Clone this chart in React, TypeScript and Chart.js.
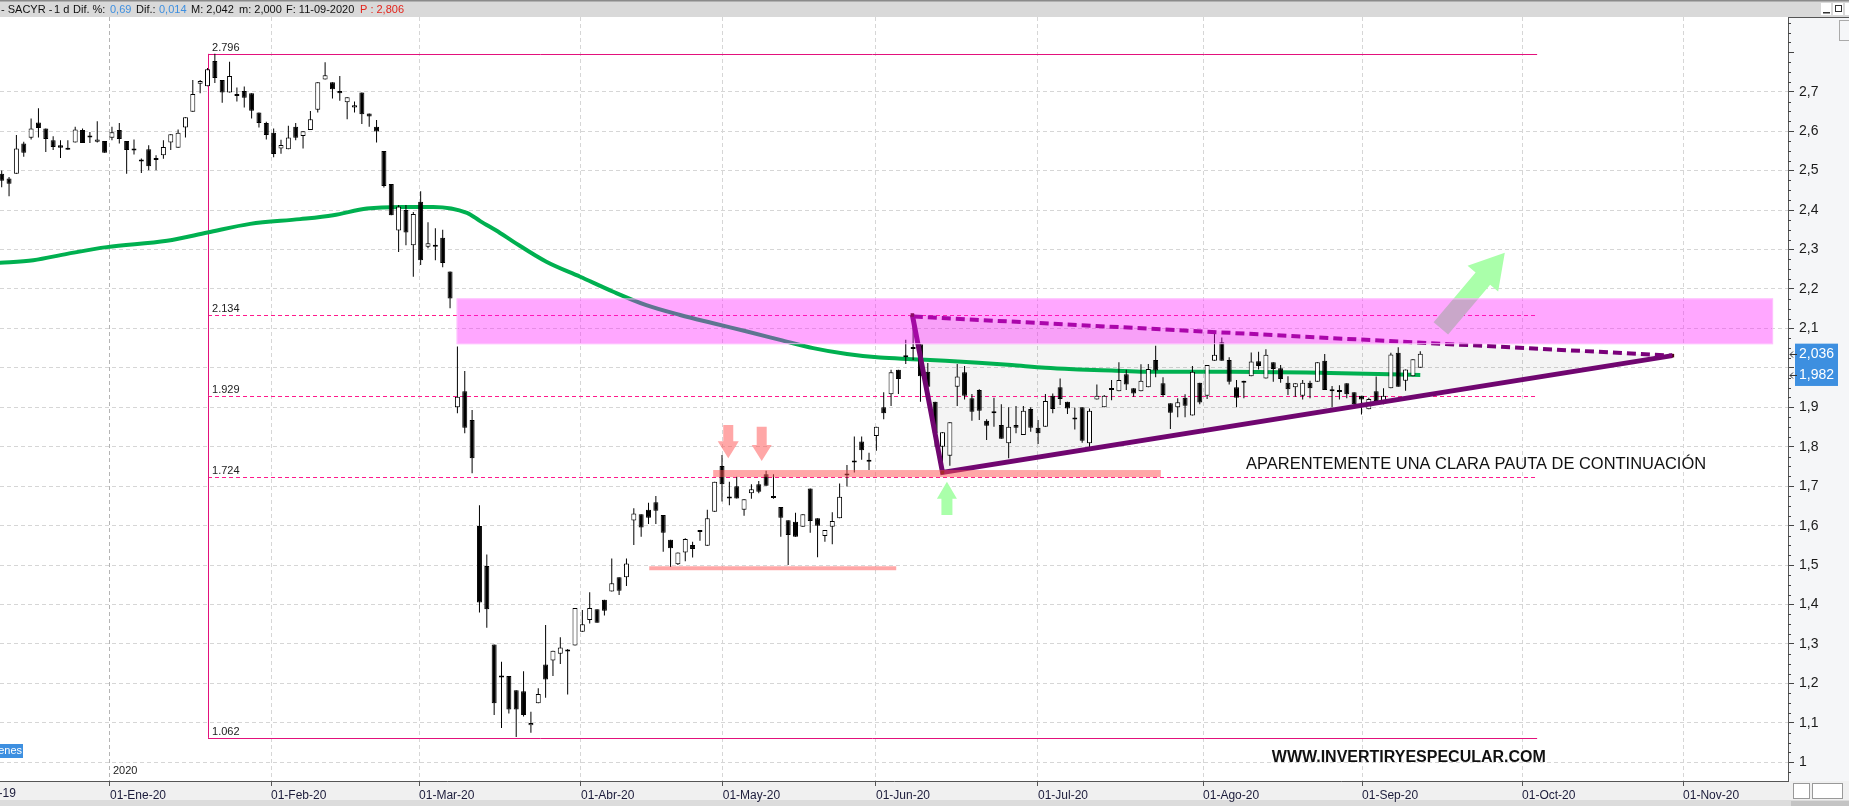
import React, { useEffect, useRef } from 'react';
import { Chart, registerables } from 'chart.js';

Chart.register(...registerables);

const FONT = '"Liberation Sans", Arial, sans-serif';

// ---- Daily candles (trading-day index 1..194, ~10-Dic-2019 .. 11-Sep-2020) ----
const openP = [
  2.492, 2.480, 2.492, 2.569, 2.583, 2.622, 2.607, 2.577, 2.564, 2.553,
  2.571, 2.603, 2.584, 2.573, 2.575, 2.583, 2.603, 2.575, 2.552, 2.524,
  2.554, 2.528, 2.539, 2.571, 2.558, 2.609, 2.649, 2.720, 2.714, 2.778,
  2.730, 2.698, 2.690, 2.702, 2.696, 2.647, 2.621, 2.596, 2.556, 2.554,
  2.611, 2.588, 2.603, 2.654, 2.731, 2.724, 2.702, 2.673, 2.660, 2.698,
  2.645, 2.611, 2.550, 2.466, 2.348, 2.400, 2.311, 2.421, 2.307, 2.311,
  2.330, 2.244, 1.900, 1.941, 1.868, 1.599, 1.498, 1.299, 1.217, 1.219,
  1.183, 1.180, 1.094, 1.150, 1.248, 1.258, 1.275, 1.283, 1.296, 1.331,
  1.361, 1.388, 1.412, 1.433, 1.469, 1.469, 1.613, 1.629, 1.640, 1.659,
  1.627, 1.564, 1.502, 1.532, 1.551, 1.586, 1.549, 1.635, 1.751, 1.671,
  1.700, 1.640, 1.682, 1.705, 1.730, 1.671, 1.647, 1.614, 1.610, 1.597,
  1.694, 1.619, 1.574, 1.597, 1.619, 1.728, 1.760, 1.813, 1.762, 1.827,
  1.900, 1.933, 1.995, 2.028, 2.048, 2.060, 1.990, 1.914, 1.800, 1.777,
  1.952, 1.989, 1.923, 1.944, 1.866, 1.886, 1.855, 1.809, 1.855, 1.830,
  1.896, 1.848, 1.851, 1.929, 1.951, 1.914, 1.870, 1.900, 1.809, 1.920,
  1.900, 1.944, 1.941, 1.984, 1.948, 1.941, 1.951, 2.020, 1.961, 1.910,
  1.900, 1.924, 1.879, 1.962, 1.929, 2.018, 2.065, 2.020, 1.951, 1.962,
  1.979, 2.017, 1.973, 2.014, 1.999, 1.962, 1.951, 1.929, 1.962, 1.965,
  2.018, 1.942, 1.939, 1.961, 1.938, 1.929, 1.895, 1.941, 1.910, 1.948,
  2.038, 1.967, 1.979, 2.000,
];
const highP = [
  2.500, 2.484, 2.590, 2.573, 2.632, 2.658, 2.607, 2.587, 2.577, 2.577,
  2.611, 2.607, 2.598, 2.625, 2.575, 2.611, 2.621, 2.575, 2.579, 2.531,
  2.564, 2.539, 2.577, 2.592, 2.604, 2.635, 2.730, 2.730, 2.760, 2.796,
  2.730, 2.776, 2.711, 2.713, 2.696, 2.647, 2.624, 2.607, 2.578, 2.614,
  2.621, 2.600, 2.651, 2.724, 2.775, 2.724, 2.740, 2.686, 2.675, 2.698,
  2.645, 2.628, 2.550, 2.466, 2.413, 2.413, 2.395, 2.448, 2.369, 2.354,
  2.350, 2.244, 2.054, 1.992, 1.893, 1.652, 1.527, 1.299, 1.255, 1.219,
  1.183, 1.231, 1.128, 1.188, 1.348, 1.283, 1.317, 1.287, 1.391, 1.386,
  1.431, 1.388, 1.412, 1.517, 1.469, 1.517, 1.644, 1.629, 1.658, 1.675,
  1.627, 1.564, 1.532, 1.568, 1.559, 1.586, 1.640, 1.711, 1.779, 1.711,
  1.724, 1.667, 1.705, 1.713, 1.739, 1.730, 1.647, 1.614, 1.633, 1.629,
  1.694, 1.619, 1.589, 1.634, 1.707, 1.754, 1.826, 1.826, 1.785, 1.851,
  1.938, 1.995, 1.995, 2.071, 2.134, 2.060, 2.012, 1.914, 1.837, 1.862,
  2.010, 2.005, 1.934, 1.946, 1.870, 1.924, 1.908, 1.900, 1.903, 1.903,
  1.900, 1.868, 1.934, 1.935, 1.973, 1.914, 1.899, 1.900, 1.897, 1.958,
  1.931, 1.969, 2.014, 1.995, 1.948, 2.009, 2.010, 2.056, 1.976, 1.910,
  1.923, 1.933, 2.005, 1.962, 2.007, 2.094, 2.077, 2.027, 1.969, 1.967,
  2.039, 2.041, 2.047, 2.014, 2.007, 1.979, 1.961, 1.969, 1.967, 2.014,
  2.035, 1.954, 1.956, 1.961, 1.938, 1.929, 1.924, 1.978, 1.948, 2.038,
  2.052, 1.996, 2.022, 2.042,
];
const lowP = [
  2.458, 2.435, 2.492, 2.535, 2.579, 2.584, 2.547, 2.552, 2.532, 2.553,
  2.571, 2.570, 2.570, 2.571, 2.545, 2.577, 2.569, 2.492, 2.541, 2.494,
  2.501, 2.501, 2.530, 2.552, 2.558, 2.584, 2.649, 2.696, 2.714, 2.722,
  2.672, 2.698, 2.675, 2.660, 2.632, 2.609, 2.579, 2.534, 2.543, 2.554,
  2.577, 2.556, 2.603, 2.647, 2.731, 2.683, 2.677, 2.630, 2.647, 2.618,
  2.611, 2.571, 2.457, 2.387, 2.294, 2.311, 2.231, 2.261, 2.303, 2.273,
  2.255, 2.151, 1.885, 1.834, 1.733, 1.380, 1.341, 1.120, 1.087, 1.124,
  1.064, 1.116, 1.075, 1.150, 1.164, 1.219, 1.249, 1.172, 1.296, 1.331,
  1.352, 1.354, 1.372, 1.433, 1.424, 1.447, 1.551, 1.572, 1.604, 1.604,
  1.534, 1.495, 1.500, 1.510, 1.519, 1.562, 1.549, 1.635, 1.661, 1.652,
  1.669, 1.625, 1.668, 1.682, 1.701, 1.668, 1.572, 1.500, 1.572, 1.597,
  1.582, 1.520, 1.559, 1.553, 1.619, 1.699, 1.735, 1.767, 1.741, 1.790,
  1.870, 1.903, 1.934, 2.010, 2.020, 1.914, 1.940, 1.800, 1.735, 1.752,
  1.903, 1.920, 1.866, 1.868, 1.817, 1.851, 1.820, 1.771, 1.834, 1.830,
  1.838, 1.807, 1.851, 1.885, 1.906, 1.883, 1.844, 1.810, 1.794, 1.920,
  1.900, 1.918, 1.941, 1.944, 1.927, 1.941, 1.951, 1.976, 1.927, 1.845,
  1.875, 1.875, 1.879, 1.908, 1.921, 2.018, 2.018, 1.958, 1.900, 1.923,
  1.979, 1.996, 1.973, 1.965, 1.962, 1.931, 1.927, 1.920, 1.923, 1.965,
  1.944, 1.900, 1.920, 1.923, 1.903, 1.882, 1.895, 1.916, 1.908, 1.948,
  1.952, 1.942, 1.979, 2.000,
];
const closeP = [
  2.474, 2.467, 2.556, 2.545, 2.607, 2.608, 2.580, 2.560, 2.558, 2.558,
  2.604, 2.570, 2.585, 2.579, 2.545, 2.597, 2.580, 2.552, 2.551, 2.523,
  2.511, 2.527, 2.560, 2.592, 2.596, 2.635, 2.694, 2.727, 2.757, 2.735,
  2.698, 2.740, 2.689, 2.685, 2.652, 2.621, 2.590, 2.542, 2.565, 2.584,
  2.583, 2.600, 2.630, 2.724, 2.742, 2.706, 2.696, 2.686, 2.666, 2.643,
  2.637, 2.599, 2.461, 2.387, 2.409, 2.343, 2.390, 2.273, 2.316, 2.307,
  2.266, 2.176, 1.927, 1.848, 1.771, 1.405, 1.388, 1.150, 1.215, 1.134,
  1.134, 1.120, 1.100, 1.173, 1.210, 1.283, 1.291, 1.281, 1.391, 1.350,
  1.391, 1.354, 1.384, 1.454, 1.435, 1.504, 1.631, 1.595, 1.620, 1.638,
  1.582, 1.543, 1.532, 1.566, 1.541, 1.584, 1.619, 1.711, 1.705, 1.669,
  1.669, 1.667, 1.692, 1.686, 1.701, 1.670, 1.620, 1.576, 1.572, 1.629,
  1.612, 1.600, 1.589, 1.612, 1.673, 1.727, 1.761, 1.791, 1.763, 1.851,
  1.885, 1.989, 1.972, 2.027, 2.049, 1.979, 1.952, 1.834, 1.837, 1.862,
  1.978, 1.929, 1.889, 1.891, 1.853, 1.885, 1.820, 1.851, 1.848, 1.891,
  1.848, 1.834, 1.916, 1.896, 1.921, 1.897, 1.869, 1.815, 1.891, 1.929,
  1.929, 1.945, 1.969, 1.958, 1.935, 1.967, 1.997, 1.993, 1.931, 1.886,
  1.913, 1.904, 1.990, 1.912, 2.007, 2.033, 2.018, 1.965, 1.924, 1.967,
  2.016, 2.005, 2.033, 1.997, 1.972, 1.946, 1.961, 1.962, 1.948, 2.014,
  1.944, 1.941, 1.944, 1.933, 1.908, 1.920, 1.921, 1.916, 1.929, 2.034,
  1.952, 1.996, 2.022, 2.036,
];

// ---- Moving average (read at sample positions along the curve) ----
const maPos = [0.5, 5.3, 9.9, 15.3, 23.5, 29.0, 34.8, 41.6, 46.1, 50.7, 55.2, 59.7, 64.3, 66.1, 68.8, 70.6,
  75.1, 79.7, 84.2, 88.7, 93.3, 97.8, 102.4, 106.9, 111.4, 116.0, 120.5, 124.8, 129.4, 133.9, 138.4,
  143.0, 147.5, 152.0, 156.6, 168.2, 181.7, 194];
const maVal = [2.266, 2.273, 2.289, 2.306, 2.322, 2.343, 2.365, 2.377, 2.387, 2.404, 2.408, 2.408, 2.393, 2.372, 2.342, 2.320,
  2.269, 2.231, 2.193, 2.159, 2.134, 2.113, 2.092, 2.071, 2.050, 2.035, 2.026, 2.022, 2.018, 2.013, 2.007,
  2.000, 1.996, 1.993, 1.990, 1.990, 1.987, 1.982];

// ---- Axes ----
const monthTickPos = [15.73, 37.64, 57.78, 79.81, 99.1, 119.95, 141.99, 164.45, 186.08, 207.85, 229.75];
const monthTickLabels = ['01-Ene-20', '01-Feb-20', '01-Mar-20', '01-Abr-20', '01-May-20', '01-Jun-20',
  '01-Jul-20', '01-Ago-20', '01-Sep-20', '01-Oct-20', '01-Nov-20'];
const prevMonthPos = -4.15;
const prevMonthLabel = '01-Dic-19';
const yTickValues = [1.0, 1.1, 1.2, 1.3, 1.4, 1.5, 1.6, 1.7, 1.8, 1.9, 2.0, 2.1, 2.2, 2.3, 2.4, 2.5, 2.6, 2.7];

const X_MIN = 0.769;
const X_MAX = 244.03;
const Y_MIN = 0.9527;
const Y_MAX = 2.8894;

// ---- Drawing annotations (in data units) ----
const fibLevels = [2.796, 2.134, 1.929, 1.724, 1.062];
const fibLabels = ['2.796', '2.134', '1.929', '1.724', '1.062'];
const fibStart = 29.07;
const fibEnd = 209.9;
const band = { x0: 62.9, x1: 242.0, lo: 2.06, hi: 2.176 };
const supportPts = [[124.9, 2.134], [129.0, 1.735], [228.3, 2.031]];
const resistPts = [[125.1, 2.13], [228.3, 2.031]];
const salmonLines = [
  { x0: 97.8, x1: 158.7, lo: 1.723, hi: 1.741 },
  { x0: 89.1, x1: 122.7, lo: 1.487, hi: 1.497 },
];
const arrows = [
  { base: [99.85, 1.855], tip: [99.85, 1.771], shaft: 10, head: 21, headLen: 17, color: 'rgba(255,80,80,0.5)' },
  { base: [104.4, 1.851], tip: [104.4, 1.764], shaft: 10, head: 20, headLen: 16, color: 'rgba(255,80,80,0.5)' },
  { base: [129.6, 1.627], tip: [129.6, 1.711], shaft: 11, head: 20, headLen: 17, color: 'rgb(170,255,170)' },
  { base: [196.8, 2.100], tip: [205.5, 2.292], shaft: 19, head: 40, headLen: 34, color: 'rgb(170,255,170)' },
];
const noteText = 'APARENTEMENTE UNA CLARA PAUTA DE CONTINUACIÓN';
const notePos = [170.3, 1.755];
const siteText = 'WWW.INVERTIRYESPECULAR.COM';
const sitePos = [173.8, 1.011];

const headerParts: [number, string, string][] = [
  [1, '- SACYR -', '#111'], [54, '1 d', '#111'], [73, 'Dif. %:', '#111'], [110, '0,69', '#3d8fe0'],
  [136, 'Dif.:', '#111'], [159, '0,014', '#3d8fe0'], [191, 'M: 2,042', '#111'], [239, 'm: 2,000', '#111'],
  [286, 'F: 11-09-2020', '#111'], [360, 'P : 2,806', '#e3241b'],
];

function fmtComma(v: number) {
  const r = Math.round(v * 10) / 10;
  return String(r).replace('.', ',');
}

function fmt3(v: number) {
  return v.toFixed(3).replace('.', ',');
}

function drawArrow(ctx: any, bx: number, by: number, tx: number, ty: number, shaftW: number, headW: number, headL: number, color: string) {
  const dx = tx - bx, dy = ty - by;
  const len = Math.hypot(dx, dy);
  const ux = dx / len, uy = dy / len;
  const nx = -uy, ny = ux;
  const hx = tx - ux * headL, hy = ty - uy * headL;
  ctx.beginPath();
  ctx.moveTo(bx + nx * shaftW / 2, by + ny * shaftW / 2);
  ctx.lineTo(hx + nx * shaftW / 2, hy + ny * shaftW / 2);
  ctx.lineTo(hx + nx * headW / 2, hy + ny * headW / 2);
  ctx.lineTo(tx, ty);
  ctx.lineTo(hx - nx * headW / 2, hy - ny * headW / 2);
  ctx.lineTo(hx - nx * shaftW / 2, hy - ny * shaftW / 2);
  ctx.lineTo(bx - nx * shaftW / 2, by - ny * shaftW / 2);
  ctx.closePath();
  ctx.fillStyle = color;
  ctx.fill();
}

const decorPlugin = {
  id: 'decor',
  beforeDraw(chart: any) {
    const { ctx, width, height, chartArea: ca } = chart;
    ctx.save();
    ctx.fillStyle = '#ffffff';
    ctx.fillRect(0, 0, width, height);
    ctx.fillStyle = '#f5f6f8';
    ctx.fillRect(ca.right, ca.top, width - ca.right, ca.bottom - ca.top);
    ctx.fillStyle = '#f0f0f0';
    ctx.fillRect(0, ca.bottom, width, height - ca.bottom);
    ctx.fillStyle = '#dcdcdc';
    ctx.fillRect(0, height - 6, width, 6);
    ctx.fillStyle = '#c4c4c4';
    ctx.fillRect(width - 58, height - 5, 58, 5);
    // header bar
    ctx.fillStyle = '#d9d9d9';
    ctx.fillRect(0, 0, width, ca.top);
    ctx.fillStyle = '#8a8a8a';
    ctx.fillRect(0, 0, width, 1.5);
    ctx.font = '11px ' + FONT;
    ctx.textBaseline = 'middle';
    ctx.textAlign = 'left';
    headerParts.forEach(([x, t, c]) => {
      ctx.fillStyle = c;
      ctx.fillText(t, x, 10);
    });
    // window buttons
    ctx.fillStyle = '#ffffff';
    ctx.fillRect(1821, 3, 10, 12);
    ctx.fillRect(1833, 3, 10, 12);
    ctx.fillRect(1845, 3, 4, 12);
    ctx.fillStyle = '#333';
    ctx.fillRect(1823, 12, 7, 1.5);
    ctx.strokeStyle = '#333';
    ctx.lineWidth = 1;
    ctx.strokeRect(1835.5, 5.5, 6, 6);
    ctx.restore();
  },
  beforeDatasetsDraw(chart: any) {
    const { ctx, chartArea: ca } = chart;
    const xs = chart.scales.x, ys = chart.scales.y;
    const px = (v: number) => xs.getPixelForValue(v);
    const py = (v: number) => ys.getPixelForValue(v);
    ctx.save();
    ctx.beginPath();
    ctx.rect(ca.left, ca.top, ca.right - ca.left, ca.bottom - ca.top);
    ctx.clip();
    // triangle fill
    ctx.beginPath();
    supportPts.forEach(([n, v], i) => (i === 0 ? ctx.moveTo(px(n), py(v)) : ctx.lineTo(px(n), py(v))));
    ctx.closePath();
    ctx.fillStyle = 'rgba(0,0,0,0.045)';
    ctx.fill();
    // fibonacci lines
    const xa = px(fibStart), xb = px(fibEnd);
    fibLevels.forEach((lv, i) => {
      const solid = i === 0 || i === fibLevels.length - 1;
      ctx.beginPath();
      ctx.setLineDash(solid ? [] : [4, 3]);
      ctx.strokeStyle = solid ? '#e3117c' : '#ff1a8c';
      ctx.lineWidth = 1;
      const y = Math.round(py(lv)) + 0.5;
      ctx.moveTo(xa, y);
      ctx.lineTo(xb, y);
      ctx.stroke();
      ctx.setLineDash([]);
      ctx.fillStyle = '#222';
      ctx.font = '11px ' + FONT;
      ctx.textBaseline = 'alphabetic';
      ctx.textAlign = 'left';
      ctx.fillText(fibLabels[i], xa + 4, y - 4);
    });
    ctx.beginPath();
    ctx.strokeStyle = '#e3117c';
    ctx.lineWidth = 1;
    const vx = Math.round(xa) + 0.5;
    ctx.moveTo(vx, py(fibLevels[0]));
    ctx.lineTo(vx, py(fibLevels[fibLevels.length - 1]));
    ctx.stroke();
    // year label
    ctx.fillStyle = '#222';
    ctx.font = '11px ' + FONT;
    ctx.textBaseline = 'middle';
    ctx.fillText('2020', px(monthTickPos[0]) + 3, ca.bottom - 10);
    ctx.restore();
  },
  afterDatasetsDraw(chart: any) {
    const { ctx, chartArea: ca } = chart;
    const xs = chart.scales.x, ys = chart.scales.y;
    const px = (v: number) => xs.getPixelForValue(v);
    const py = (v: number) => ys.getPixelForValue(v);
    ctx.save();
    ctx.beginPath();
    ctx.rect(ca.left, ca.top, ca.right - ca.left, ca.bottom - ca.top);
    ctx.clip();
    ctx.fillStyle = 'rgba(255,80,80,0.5)';
    salmonLines.forEach((s) => {
      ctx.fillRect(px(s.x0), py(s.hi), px(s.x1) - px(s.x0), py(s.lo) - py(s.hi));
    });
    arrows.forEach((a) => {
      drawArrow(ctx, px(a.base[0]), py(a.base[1]), px(a.tip[0]), py(a.tip[1]), a.shaft, a.head, a.headLen, a.color);
    });
    // resistance zone
    ctx.fillStyle = 'rgba(255,15,255,0.37)';
    ctx.fillRect(px(band.x0), py(band.hi), px(band.x1) - px(band.x0), py(band.lo) - py(band.hi));
    ctx.strokeStyle = 'rgba(255,200,255,0.8)';
    ctx.lineWidth = 1;
    ctx.strokeRect(px(band.x0) + 0.5, py(band.hi) + 0.5, px(band.x1) - px(band.x0) - 1, py(band.lo) - py(band.hi) - 1);
    // texts
    ctx.fillStyle = '#111';
    ctx.textAlign = 'left';
    ctx.textBaseline = 'middle';
    ctx.font = '17px ' + FONT;
    ctx.fillText(noteText, px(notePos[0]), py(notePos[1]), 460);
    ctx.font = 'bold 16px ' + FONT;
    ctx.fillText(siteText, px(sitePos[0]), py(sitePos[1]), 276);
    ctx.restore();
  },
  afterDraw(chart: any) {
    const { ctx, chartArea: ca, width } = chart;
    const xs = chart.scales.x, ys = chart.scales.y;
    const py = (v: number) => ys.getPixelForValue(v);
    ctx.save();
    // minor ticks on price axis
    ctx.strokeStyle = '#444';
    ctx.lineWidth = 1;
    for (let k = 39; k <= 115; k++) {
      const v = k * 0.025;
      if (k % 4 === 0 && v <= 2.7001) continue;
      const y = Math.round(py(v)) + 0.5;
      if (y < ca.top || y > ca.bottom) continue;
      ctx.beginPath();
      ctx.moveTo(ca.right, y);
      ctx.lineTo(ca.right + (k % 4 === 0 ? 6 : 3), y);
      ctx.stroke();
    }
    // previous month label (partly outside)
    ctx.fillStyle = '#1b1b3a';
    ctx.font = '12px ' + FONT;
    ctx.textBaseline = 'top';
    ctx.textAlign = 'left';
    ctx.fillText(prevMonthLabel, xs.getPixelForValue(prevMonthPos), ca.bottom + 7);
    // last price / average labels
    const lastClose = closeP[closeP.length - 1];
    const lastMa = maVal[maVal.length - 1];
    const yA = py(lastClose), yB = py(lastMa);
    ctx.fillStyle = '#3d8fe0';
    ctx.fillRect(ca.right + 7, yA - 10, 43, yB - yA + 21);
    ctx.fillStyle = '#ffffff';
    ctx.font = '14px ' + FONT;
    ctx.textBaseline = 'middle';
    ctx.fillText(fmt3(lastClose), ca.right + 11, yA);
    ctx.fillText(fmt3(lastMa), ca.right + 11, yB);
    ctx.strokeStyle = '#333';
    [yA, yB].forEach((y) => {
      const yy = Math.round(y) + 0.5;
      ctx.beginPath();
      ctx.moveTo(ca.right + 9, yy);
      ctx.lineTo(ca.right + 2, yy);
      ctx.moveTo(ca.right + 5, yy - 3);
      ctx.lineTo(ca.right + 2, yy);
      ctx.lineTo(ca.right + 5, yy + 3);
      ctx.stroke();
    });
    // panel top border + icon
    ctx.strokeStyle = '#555';
    ctx.beginPath();
    ctx.moveTo(ca.right, ca.top + 0.5);
    ctx.lineTo(width, ca.top + 0.5);
    ctx.stroke();
    ctx.strokeStyle = '#aaa';
    ctx.strokeRect(1839.5, 20.5, 10, 20);
    // volume tab label
    ctx.fillStyle = '#3d8fe0';
    ctx.fillRect(0, 744, 23, 14);
    ctx.fillStyle = '#ffffff';
    ctx.font = '11px ' + FONT;
    ctx.textAlign = 'right';
    ctx.fillText('enes', 22, 751);
    // bottom-right widgets
    ctx.strokeStyle = '#999';
    ctx.fillStyle = '#ffffff';
    ctx.fillRect(1793, 783, 16, 15);
    ctx.strokeRect(1793.5, 783.5, 16, 15);
    ctx.fillRect(1812, 783, 30, 15);
    ctx.strokeRect(1812.5, 783.5, 30, 15);
    ctx.restore();
  },
};

export default function App() {
  const ref = useRef<HTMLCanvasElement | null>(null);
  useEffect(() => {
    document.body.style.margin = '0';
    const canvas = ref.current;
    if (!canvas) return;
    Chart.defaults.font.family = FONT;
    const idx = openP.map((_, i) => i + 1);
    const chart = new Chart(canvas, {
      type: 'bar',
      data: {
        datasets: [
          {
            type: 'line',
            label: 'Media',
            data: maPos.map((p, i) => ({ x: p, y: maVal[i] })),
            borderColor: 'rgb(0,176,80)',
            borderWidth: 4,
            pointRadius: 0,
            tension: 0.4,
            cubicInterpolationMode: 'monotone',
            order: 5,
          } as any,
          {
            type: 'bar',
            label: 'Mechas',
            data: idx.map((n, i) => ({ x: n, y: [lowP[i], highP[i]] })),
            backgroundColor: '#000000',
            borderWidth: 0,
            barThickness: 1,
            grouped: false,
            inflateAmount: 0,
            order: 4,
          } as any,
          {
            type: 'bar',
            label: 'SACYR',
            data: idx.map((n, i) => ({ x: n, y: [openP[i], closeP[i]] })),
            backgroundColor: idx.map((_, i) => (closeP[i] >= openP[i] ? '#ffffff' : '#000000')),
            borderColor: '#000000',
            borderWidth: 1,
            borderSkipped: false,
            barThickness: 5,
            minBarLength: 2,
            grouped: false,
            inflateAmount: 0,
            order: 3,
          } as any,
          {
            type: 'line',
            label: 'Soporte',
            data: supportPts.map(([n, v]) => ({ x: n, y: v })),
            borderColor: 'rgb(112,6,112)',
            borderWidth: 5,
            pointRadius: 2.5,
            pointStyle: 'rect',
            pointBackgroundColor: '#4a0808',
            pointBorderWidth: 0,
            tension: 0,
            order: 2,
          } as any,
          {
            type: 'line',
            label: 'Resistencia',
            data: resistPts.map(([n, v]) => ({ x: n, y: v })),
            borderColor: 'rgb(122,0,122)',
            borderWidth: 4,
            borderDash: [9, 5],
            pointRadius: 0,
            tension: 0,
            order: 1,
          } as any,
        ],
      },
      options: {
        responsive: false,
        animation: false,
        devicePixelRatio: 1,
        events: [],
        layout: { padding: { top: 17, left: 0, right: 0, bottom: 0 }, autoPadding: false } as any,
        plugins: { legend: { display: false }, tooltip: { enabled: false } },
        scales: {
          x: {
            type: 'linear',
            position: 'bottom',
            min: X_MIN,
            max: X_MAX,
            offset: false,
            afterFit: (s: any) => { s.height = 25; },
            afterBuildTicks: (s: any) => { s.ticks = monthTickPos.map((v) => ({ value: v })); },
            ticks: {
              autoSkip: false,
              maxRotation: 0,
              minRotation: 0,
              align: 'start',
              padding: 2,
              color: '#1b1b3a',
              font: { size: 12, family: FONT },
              callback: (_v: any, i: number) => monthTickLabels[i],
            },
            grid: {
              offset: false,
              color: (c: any) => (c.index === 0 ? '#b4b4b4' : '#d6d6d6'),
              tickColor: '#555',
              tickLength: 5,
            },
            border: { display: true, color: '#555', width: 1, dash: [4, 3] },
          } as any,
          y: {
            type: 'linear',
            position: 'right',
            min: Y_MIN,
            max: Y_MAX,
            afterFit: (s: any) => { s.width = 61; },
            afterBuildTicks: (s: any) => { s.ticks = yTickValues.map((v) => ({ value: v })); },
            ticks: {
              padding: 5,
              color: '#1a1a1a',
              font: { size: 14, family: FONT },
              callback: (v: any) => fmtComma(Number(v)),
            },
            grid: { color: '#d6d6d6', tickColor: '#444', tickLength: 6 },
            border: { display: true, color: '#555', width: 1, dash: [4, 3] },
          } as any,
        },
      } as any,
      plugins: [decorPlugin],
    });
    return () => chart.destroy();
  }, []);
  return (
    <div style={{ width: 1849, height: 806, position: 'relative' }}>
      <canvas ref={ref} width={1849} height={806} style={{ display: 'block', width: 1849, height: 806 }} />
    </div>
  );
}
